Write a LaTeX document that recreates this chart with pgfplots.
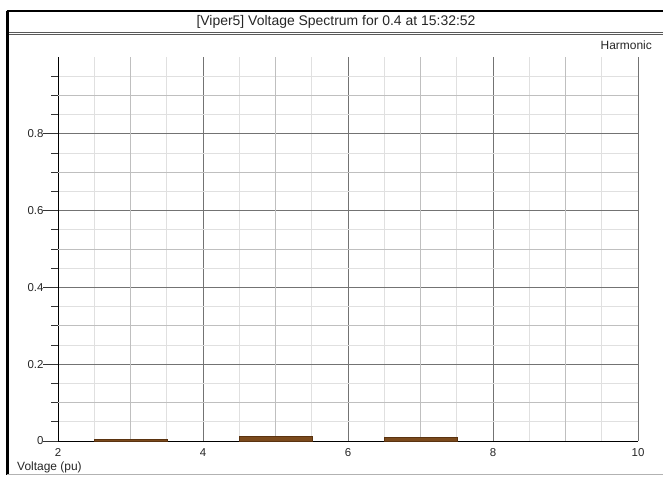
\documentclass[border=0pt]{standalone}
\usepackage{pgfplots}
\pgfplotsset{compat=1.18}
\usepackage{fontspec}
\setmainfont{Liberation Sans}
\definecolor{barfill}{HTML}{7B4A1C}
\definecolor{baredge}{HTML}{5A3310}
\begin{document}
\begin{tikzpicture}[x=1bp,y=1bp]
\useasboundingbox (0,0) rectangle (663,477);
% frame
\fill[white] (0,0) rectangle (663,477);
\draw[black, line width=2.5bp] (7.5,2) -- (7.5,465.5);
\draw[black, line width=2bp] (6.5,465.5) -- (663,465.5);
\draw[gray!60, line width=1bp] (7,2) -- (663,2);
\draw[gray!70!black, line width=1bp] (9,444.5) -- (663,444.5);
\draw[gray!70!black, line width=1bp] (9,442) -- (663,442);
\node[font=\fontsize{14}{16}\selectfont, text=black!85, anchor=center] at (336,455) {[Viper5] Voltage Spectrum for 0.4 at 15:32:52};
\node[font=\fontsize{12}{14}\selectfont, text=black!85, anchor=east, inner sep=0pt] at (652,432) {Harmonic};
\node[font=\fontsize{12}{14}\selectfont, text=black!85, anchor=west, inner sep=0pt] at (17,10) {Voltage (pu)};
\begin{axis}[
  at={(58bp,36bp)}, anchor=origin,
  width=580bp, height=384bp, scale only axis,
  xmin=2, xmax=10, ymin=0, ymax=1,
  axis lines=left, axis line style={-, black, line width=0.8bp},
  xtick={2,4,6,8,10},
  minor xtick={2.5,3,3.5,4.5,5,5.5,6.5,7,7.5,8.5,9,9.5},
  ytick={0,0.2,0.4,0.6,0.8},
  minor ytick={0.05,0.1,...,0.95},
  yticklabels={0,0.2,0.4,0.6,0.8},
  xticklabels={2,4,6,8,10},
  /pgf/number format/assume math mode=true,
  tick label style={font=\fontsize{11.5}{13}\selectfont, text=black!85},
  x tick style={draw=none},
  minor x tick style={draw=none},
  y tick style={black!80, line width=0.6bp},
  tick align=outside,
  major tick length=15bp, minor tick length=7bp,
  xticklabel style={yshift=11bp},
  yticklabel style={xshift=4bp},
  grid=both,
  major grid style={black!55, line width=0.8bp},
  minor grid style={black!12, line width=0.8bp},
  clip=false,
]
\pgfplotsinvokeforeach{3,5,7,9}{
  \draw[black!25, line width=0.8bp] (axis cs:#1,0) -- (axis cs:#1,1);
}
\pgfplotsinvokeforeach{0.1,0.3,0.5,0.7,0.9}{
  \draw[black!25, line width=0.8bp] (axis cs:2,#1) -- (axis cs:10,#1);
}
\addplot[ybar, bar width=1, fill=barfill, draw=baredge, line width=0.5bp] coordinates {(3,0.004) (5,0.013) (7,0.009)};
\end{axis}
\end{tikzpicture}
\end{document}
